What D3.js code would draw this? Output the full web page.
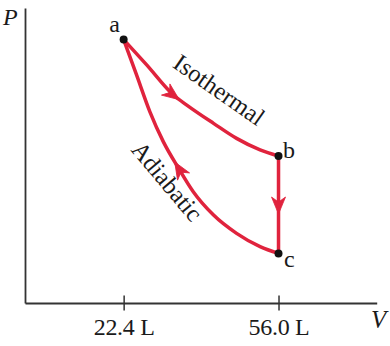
<!DOCTYPE html>
<html>
<head>
<meta charset="utf-8">
<script src="https://cdn.jsdelivr.net/npm/d3@7"></script>
<style>
  html, body { margin: 0; padding: 0; background: #fff; }
  svg { display: block; }
  text { font-family: "Liberation Serif", "DejaVu Serif", serif; fill: #1a1a1a; }
</style>
</head>
<body>
<div id="chart"></div>
<script>
// ---- data ----
const xTicks = [22.4, 56.0];               // volume tick values (L)
const stateNames = ["a", "b", "c"];
const stateV = [22.4, 56.0, 56.0];          // volume of states
const stateP = [8.93, 4.98, 1.68];          // pressure (arbitrary units, no scale shown)

// isothermal a -> b (V, P)
const isoV = [22.4, 27.4, 33.2, 36.1, 41.9, 46.9, 52.0, 56.0];
const isoP = [8.93, 8.07, 7.05, 6.71, 6.09, 5.58, 5.19, 4.98];
// adiabatic c -> a (stored a..c by increasing V)
const adiV = [22.4, 25.2, 28.1, 31.0, 34.3, 37.5, 41.9, 46.9, 52.0, 56.0];
const adiP = [8.93, 7.73, 6.48, 5.47, 4.57, 3.77, 2.98, 2.36, 1.91, 1.68];

const curveLabels = ["Isothermal", "Adiabatic"];
const labelV = [43.1, 31.8];
const labelP = [7.22, 4.12];
const labelAngle = [35, 50];

// ---- layout ----
const W = 390, H = 346;
const red = "#e0233d";
const axisColor = "#333";

const x = d3.scaleLinear().domain([1, 77.3]).range([25, 376.7]);
const y = d3.scaleLinear().domain([0, 10]).range([303, 8]);

const svg = d3.select("#chart").append("svg")
  .attr("width", W).attr("height", H);

// x axis
const xAxis = d3.axisBottom(x).tickValues(xTicks).tickSizeOuter(0)
  .tickFormat(d => d.toFixed(1) + " L");
const gx = svg.append("g").attr("transform", `translate(0,${y(0)})`).call(xAxis);
gx.select(".domain").attr("stroke", axisColor).attr("stroke-width", 1.8);
gx.selectAll(".tick line").attr("stroke", axisColor).attr("stroke-width", 1.5)
  .attr("y1", -7.5).attr("y2", 7.5);
gx.selectAll(".tick text").attr("font-family", "Liberation Serif, serif")
  .attr("font-size", 24).attr("fill", "#1a1a1a").attr("y", 32).attr("dy", 0)
  .attr("letter-spacing", -0.3);

// y axis
const yAxis = d3.axisLeft(y).tickValues([]).tickSizeOuter(0);
const gy = svg.append("g").attr("transform", `translate(${x(1)},0)`).call(yAxis);
gy.select(".domain").attr("stroke", axisColor).attr("stroke-width", 1.8);

// axis titles
svg.append("text").attr("x", 3).attr("y", 25).attr("font-size", 24)
  .attr("font-style", "italic").text("P");
svg.append("text").attr("x", 371).attr("y", 328).attr("font-size", 25)
  .attr("font-style", "italic").text("V");

// curves
const line = d3.line().x(d => x(d[0])).y(d => y(d[1])).curve(d3.curveMonotoneX);
const isoPts = isoV.map((v, i) => [v, isoP[i]]);
const adiPts = adiV.map((v, i) => [v, adiP[i]]);
const vertPts = [[stateV[1], stateP[1]], [stateV[2], stateP[2]]];

const g = svg.append("g").attr("fill", "none").attr("stroke", red)
  .attr("stroke-width", 3.5).attr("stroke-linecap", "round");
const isoPath = g.append("path").attr("d", line(isoPts)).node();
const adiPath = g.append("path").attr("d", line(adiPts)).node();
g.append("path").attr("d", d3.line().x(d => x(d[0])).y(d => y(d[1]))(vertPts));

// arrowheads
function pointAtX(path, tx) {
  const L = path.getTotalLength();
  let lo = 0, hi = L;
  for (let k = 0; k < 40; k++) {
    const mid = (lo + hi) / 2;
    if (path.getPointAtLength(mid).x < tx) lo = mid; else hi = mid;
  }
  const l = (lo + hi) / 2;
  const p = path.getPointAtLength(l);
  const p0 = path.getPointAtLength(Math.max(0, l - 2));
  const p1 = path.getPointAtLength(Math.min(L, l + 2));
  return { x: p.x, y: p.y, ang: Math.atan2(p1.y - p0.y, p1.x - p0.x) * 180 / Math.PI };
}
const head = "M1,0 L-16,-7 L-11,0 L-16,7 Z";
function arrow(px, py, ang) {
  svg.append("path").attr("d", head).attr("fill", red).attr("stroke", red)
    .attr("stroke-width", 0.8).attr("stroke-linejoin", "round")
    .attr("transform", `translate(${px},${py}) rotate(${ang})`);
}
const a1 = pointAtX(isoPath, x(34.3));
arrow(a1.x, a1.y, a1.ang);
const a2 = pointAtX(adiPath, x(33.6));
arrow(a2.x, a2.y, a2.ang + 180);
arrow(x(56.0), y(3.05), 90);

// state points
svg.append("g").selectAll("circle").data(stateV).join("circle")
  .attr("cx", d => x(d)).attr("cy", (d, i) => y(stateP[i])).attr("r", 4)
  .attr("fill", "#111");

// state labels
const lblDx = [-9, 4.5, 5.5], lblDy = [-7.5, 1.5, 14], lblAnchor = ["middle", "start", "start"];
svg.append("g").selectAll("text").data(stateNames).join("text")
  .attr("x", (d, i) => x(stateV[i]) + lblDx[i])
  .attr("y", (d, i) => y(stateP[i]) + lblDy[i])
  .attr("text-anchor", (d, i) => lblAnchor[i])
  .attr("font-size", 24).text(d => d);

// curve labels
svg.append("g").selectAll("text").data(curveLabels).join("text")
  .attr("transform", (d, i) => `translate(${x(labelV[i])},${y(labelP[i])}) rotate(${labelAngle[i]})`)
  .attr("text-anchor", "middle").attr("dy", "0.33em")
  .attr("font-size", 24.5).text(d => d);
</script>
</body>
</html>
